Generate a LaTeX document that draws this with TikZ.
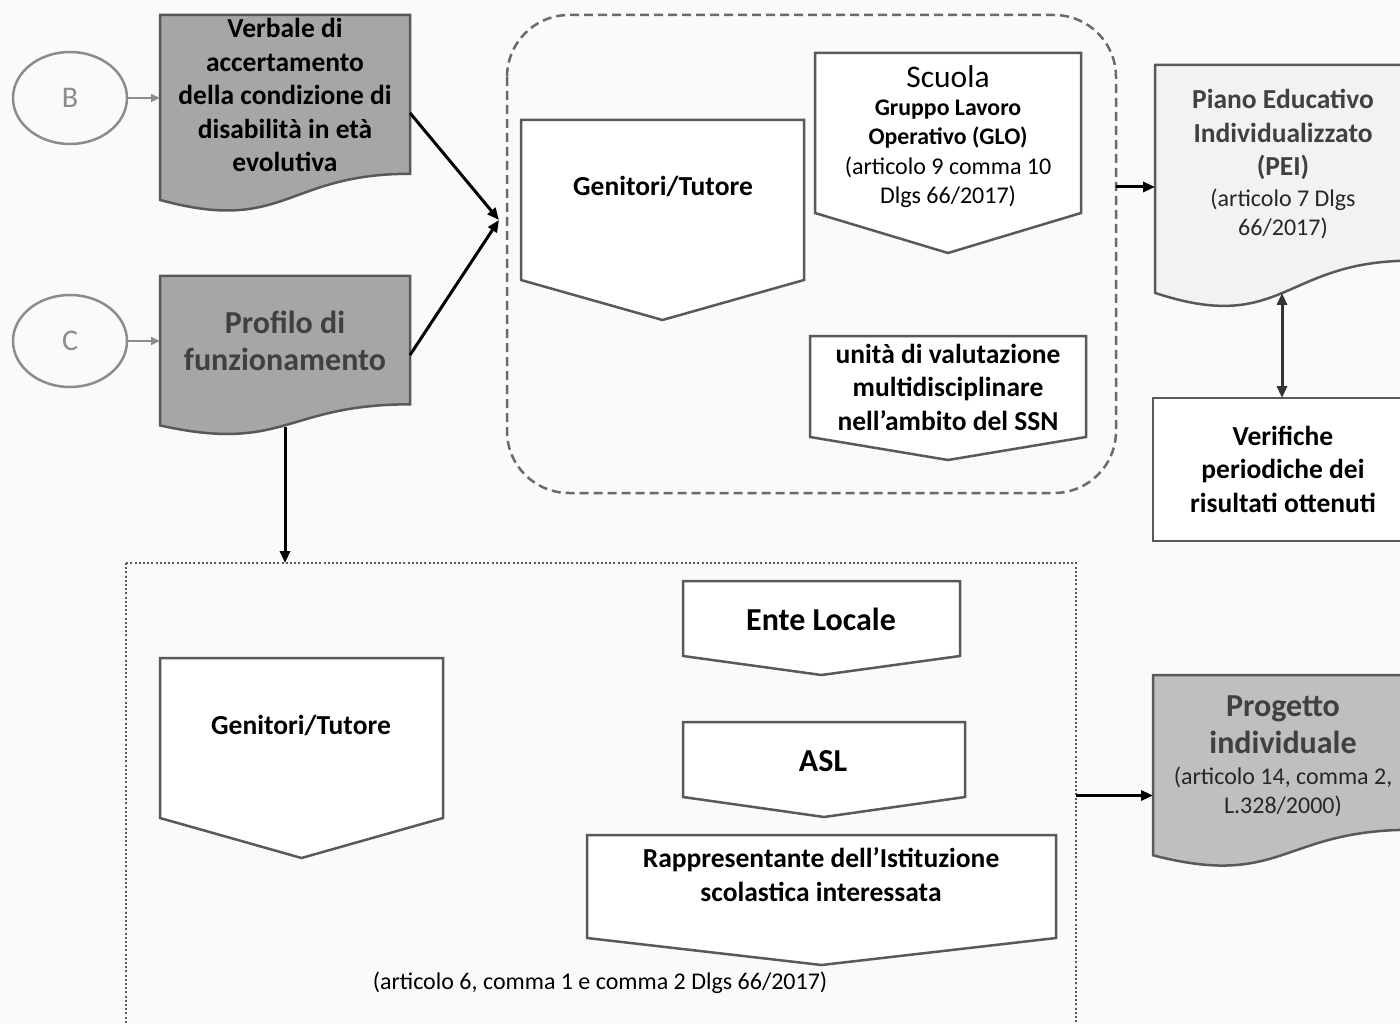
\documentclass[tikz,border=0pt]{standalone}
\usepackage{fontspec}
\setmainfont{Carlito}
\usetikzlibrary{arrows.meta,calc,shapes.geometric}
\definecolor{bg}{HTML}{FAFAFA}
\definecolor{edge}{HTML}{595959}
\definecolor{docgray}{HTML}{A6A6A6}
\definecolor{projgray}{HTML}{BFBFBF}
\definecolor{peifill}{HTML}{F2F2F2}
\definecolor{circgray}{HTML}{8C8C8C}
\definecolor{txtgray}{HTML}{404040}
\newcommand\drawpent[5]{\draw[pentbox] (#1,#3) -- (#2,#3) -- (#2,#4) -- ({(#1+#2)/2},#5) -- (#1,#4) -- cycle;}
\newcommand\drawdoc[5]{\draw[docbox,fill=#5] (#1,#3) -- (#2,#3) -- (#2,{#3+0.802*#4}) .. controls ({(#1+#2)/2},{#3+0.802*#4}) and ({(#1+#2)/2},{#3+1.1075*#4}) .. (#1,{#3+0.934*#4}) -- cycle;}
\begin{document}
\begin{tikzpicture}[x=1pt,y=-1pt,
  frame/.style={draw=none,rectangle,inner sep=0pt,outer sep=0pt},
  pentbox/.style={draw=edge,line width=2.5pt,fill=white,line join=miter},
  docbox/.style={draw=edge,line width=2.5pt,line join=miter},
  rectbox/.style={draw=edge,line width=2.5pt,fill=white},
  circ/.style={ellipse,draw=circgray,line width=2.5pt,minimum width=114pt,minimum height=92pt,inner sep=0pt,text=circgray,font=\fontsize{30}{34}\selectfont},
  bt/.style={align=center,inner sep=0pt,font=\fontsize{27.5}{33.5}\selectfont\bfseries},
  bigbt/.style={align=center,inner sep=0pt,font=\fontsize{32}{37.5}\selectfont\bfseries,text=txtgray},
  smt/.style={align=center,inner sep=0pt,font=\fontsize{24}{29}\selectfont},
  conn/.style={draw=black,line width=3pt,-{Triangle[length=12pt,width=10pt]}},
  grayconn/.style={draw=circgray,line width=2.2pt,-{Triangle[length=9pt,width=8pt]}},
  dblconn/.style={draw=black!80,line width=3pt,{Triangle[length=12pt,width=10pt]}-{Triangle[length=12pt,width=10pt]}}
]
\useasboundingbox (0,0) rectangle (1400,1024);
\fill[bg] (0,0) rectangle (1400,1024);
\clip (0,0) rectangle (1400,1024);

% frames for connectors
\node[frame,minimum width=250pt,minimum height=196pt] (verbale) at (285,113) {};
\node[frame,minimum width=250pt,minimum height=160pt] (profilo) at (285,355) {};
\node[frame,minimum width=609pt,minimum height=478pt] (group) at (811.5,254) {};
\node[frame,minimum width=256pt,minimum height=244pt] (pei) at (1283,187) {};
\node[frame,minimum width=258pt,minimum height=143pt] (verif) at (1282,469.5) {};
\node[frame,minimum width=950pt,minimum height=477pt] (dotted) at (601,801.5) {};
\node[frame,minimum width=258pt,minimum height=193pt] (progetto) at (1282,771) {};

% containers
\draw[draw=edge!90,line width=2.5pt,dash pattern=on 9pt off 5pt,rounded corners=62pt] (507,15) rectangle (1116,493);
\draw[draw=edge,line width=2pt,dash pattern=on 2pt off 2.2pt] (126,563) rectangle (1076,1040);

% documents
\drawdoc{160}{410}{15}{198}{docgray}
\drawdoc{160}{410}{276}{160}{docgray}
\drawdoc{1155}{1411}{65}{244}{peifill}
\drawdoc{1153}{1411}{675}{193}{projgray}

% pentagons
\drawpent{521}{804}{120}{280}{320}
\drawpent{815}{1081}{53}{213}{253}
\drawpent{810}{1086}{336}{437}{460}
\drawpent{160}{443}{658}{818}{858}
\drawpent{683}{960}{581}{656}{675}
\drawpent{683}{965}{722}{797}{817}
\drawpent{587}{1056}{835}{938}{965}

% rectangle
\draw[rectbox] (1153,398) rectangle (1411,541);

% circles
\node[circ] (bcirc) at (70,98) {B};
\node[circ] (ccirc) at (70,341) {C};

% texts
\node[bt] (verbaleT) at (285,95) {Verbale di\\accertamento\\della condizione di\\disabilità in età\\evolutiva};
\node[bigbt] (profiloT) at (285,341) {Profilo di\\funzionamento};
\node[bt] (gen1) at (663,186) {Genitori/Tutore};
\node[align=center,inner sep=0pt,font=\fontsize{31.5}{34}\selectfont] (scuolaT) at (948,77) {Scuola};
\node[smt,font=\fontsize{23.8}{29}\selectfont\bfseries] (gloT) at (948,124.5) {Gruppo Lavoro\\Operativo (GLO)};
\node[smt] (gloR) at (948,182.5) {(articolo 9 comma 10\\Dlgs 66/2017)};
\node[bt] (unitaT) at (948,387) {unità di valutazione\\multidisciplinare\\nell’ambito del SSN};
\node[bt,text=txtgray] (peiT) at (1283,134.5) {Piano Educativo\\Individualizzato\\(PEI)};
\node[smt,text=black!85] (peiR) at (1283,213.5) {(articolo 7 Dlgs\\66/2017)};
\node[bt] (verifT) at (1283,469) {Verifiche\\periodiche dei\\risultati ottenuti};
\node[bt] (gen2) at (301,725) {Genitori/Tutore};
\node[bt,font=\fontsize{32}{34}\selectfont\bfseries] (enteT) at (821,619) {Ente Locale};
\node[bt,font=\fontsize{32}{34}\selectfont\bfseries] (aslT) at (823,761) {ASL};
\node[bt] (rappT) at (821,874.5) {Rappresentante dell’Istituzione\\scolastica interessata};
\node[smt] (capT) at (600,983) {(articolo 6, comma 1 e comma 2 Dlgs 66/2017)};
\node[bigbt] (progT) at (1283,724.5) {Progetto\\individuale};
\node[smt,text=black!85] (progR) at (1283,791.5) {(articolo 14, comma 2,\\L.328/2000)};

% connectors
\coordinate (gin) at (499,220);
\draw[grayconn] (bcirc.east) -- (bcirc.east -| verbale.west);
\draw[grayconn] (ccirc.east) -- (ccirc.east -| profilo.west);
\draw[conn] (verbale.east) -- (gin);
\draw[conn] (profilo.east) -- (gin);
\draw[conn] ($(profilo.south)+(0,-8)$) -- (profilo.south |- dotted.north);
\draw[conn] (group.east |- pei.west) -- (pei.west);
\draw[dblconn] (verif.north) -- ++(0,-105);
\draw[conn] ($(dotted.east)+(0,-6)$) -- ($(dotted.east -| progetto.west)+(0,-6)$);
\end{tikzpicture}
\end{document}
